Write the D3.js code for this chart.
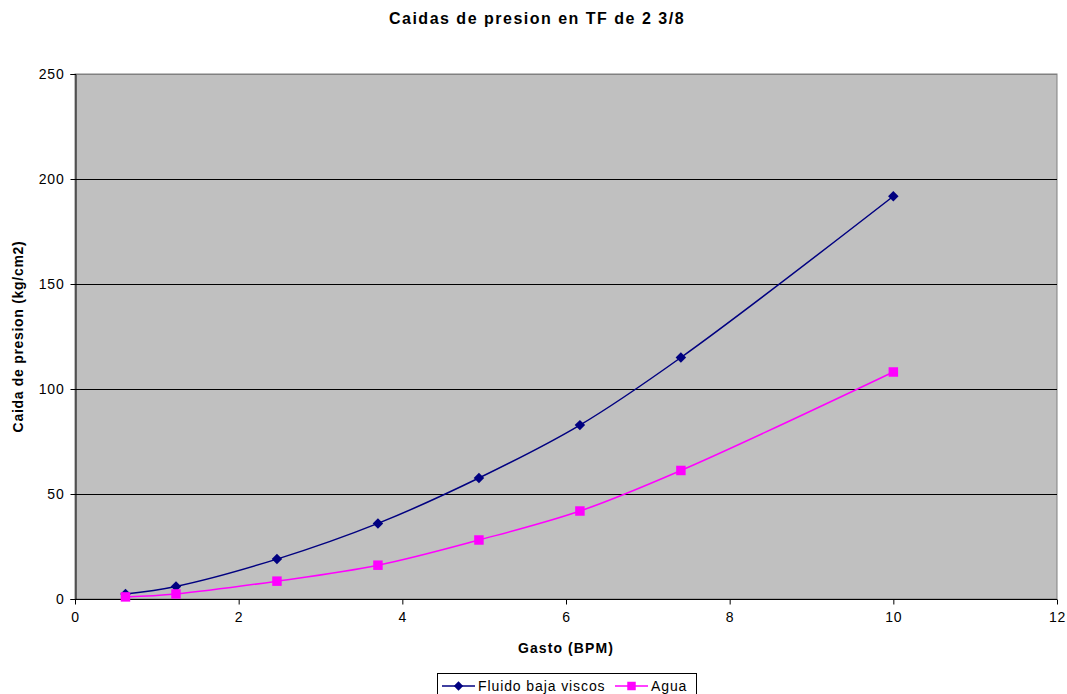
<!DOCTYPE html>
<html><head><meta charset="utf-8">
<script src="https://cdn.jsdelivr.net/npm/d3@7"></script>
<style>body{margin:0;background:#fff;font-family:Arial,"Liberation Sans",sans-serif}</style>
</head><body><svg id="c" width="1067" height="694"></svg>
<script>
const gasto = [0.617, 1.234, 2.468, 3.702, 4.936, 6.17, 7.404, 10.0];
const fluido = [2.4, 6.0, 19.0, 36.0, 57.6, 82.8, 115.0, 191.8];
const agua = [1.0, 2.4, 8.5, 16.1, 28.1, 41.9, 61.2, 108.1];
const seriesNames = ["Fluido baja viscos", "Agua"];
const xTicks = [0, 2, 4, 6, 8, 10, 12];
const yTicks = [0, 50, 100, 150, 200, 250];

const svg = d3.select("#c");
const L = 75, R = 1057, T = 74, B = 599;
const x = d3.scaleLinear().domain([0, 12]).range([L, R]);
const y = d3.scaleLinear().domain([0, 250]).range([B, T]);
const font = "Arial, 'Liberation Sans', sans-serif";

svg.append("rect").attr("x", L).attr("y", T).attr("width", R - L).attr("height", B - T)
  .attr("fill", "#c0c0c0").attr("stroke", "#808080").attr("stroke-width", 1);

svg.append("g").selectAll("line").data(yTicks.slice(1)).join("line")
  .attr("x1", L).attr("x2", R).attr("y1", d => Math.round(y(d)) + 0.5).attr("y2", d => Math.round(y(d)) + 0.5)
  .attr("stroke", d => d === 250 ? "#808080" : "#000").attr("stroke-width", 1);

const yAxis = svg.append("g").attr("transform", `translate(${L + 0.5},0)`)
  .call(d3.axisLeft(y).tickValues(yTicks).tickSize(5).tickPadding(6));
const xAxis = svg.append("g").attr("transform", `translate(0,${B + 0.5})`)
  .call(d3.axisBottom(x).tickValues(xTicks).tickSize(5).tickPadding(8));
[yAxis, xAxis].forEach(a => {
  a.selectAll("text").attr("font-size", 14).attr("letter-spacing", 0.8).attr("font-family", font).attr("fill", "#000");
  a.selectAll("line,path").attr("stroke", "#000");
});
yAxis.selectAll("text").attr("dy", "0.35em");
xAxis.select(".domain").attr("d", `M${L},0H${R}`);

const diamond = { draw(ctx, size) { const r = Math.sqrt(size) / 2; ctx.moveTo(0, -r); ctx.lineTo(r, 0); ctx.lineTo(0, r); ctx.lineTo(-r, 0); ctx.closePath(); } };
const data = [
  { name: seriesNames[0], vals: fluido, color: "#000080", shape: diamond, size: 110 },
  { name: seriesNames[1], vals: agua, color: "#ff00ff", shape: d3.symbolSquare, size: 90 }
];
const line = d3.line().x(d => x(d[0])).y(d => y(d[1])).curve(d3.curveCatmullRom.alpha(0.5));
data.forEach(s => {
  const pts = gasto.map((g, i) => [g, s.vals[i]]);
  svg.append("path").attr("d", line(pts)).attr("fill", "none").attr("stroke", s.color).attr("stroke-width", 1.5);
  svg.append("g").selectAll("path").data(pts).join("path")
    .attr("transform", d => `translate(${x(d[0])},${y(d[1])})`)
    .attr("d", d3.symbol(s.shape, s.size)).attr("fill", s.color);
});

svg.append("text").attr("x", 537).attr("y", 24).attr("text-anchor", "middle")
  .attr("font-size", 16).attr("letter-spacing", 1.5).attr("font-weight", "bold").attr("font-family", font).text("Caidas de presion en TF de 2 3/8");
svg.append("text").attr("x", 566).attr("y", 653).attr("text-anchor", "middle")
  .attr("font-size", 14).attr("letter-spacing", 1.1).attr("font-weight", "bold").attr("font-family", font).text("Gasto (BPM)");
svg.append("text").attr("transform", `translate(23,${(T + B) / 2}) rotate(-90)`).attr("text-anchor", "middle")
  .attr("font-size", 14).attr("letter-spacing", 0.7).attr("font-weight", "bold").attr("font-family", font).text("Caida de presion (kg/cm2)");

// legend
const lg = svg.append("g");
lg.append("rect").attr("x", 437.5).attr("y", 673.5).attr("width", 259).attr("height", 26)
  .attr("fill", "#fff").attr("stroke", "#000");
const items = [{ x0: 442, tx: 478 }, { x0: 615, tx: 651 }];
data.forEach((s, i) => {
  const it = items[i];
  lg.append("line").attr("x1", it.x0).attr("x2", it.x0 + 33).attr("y1", 686).attr("y2", 686)
    .attr("stroke", s.color).attr("stroke-width", 1.5);
  lg.append("path").attr("transform", `translate(${it.x0 + 16.5},686)`)
    .attr("d", d3.symbol(s.shape, s.size * 0.8)).attr("fill", s.color);
  lg.append("text").attr("x", it.tx).attr("y", 691).attr("font-size", 14).attr("letter-spacing", 0.9).attr("font-family", font).text(s.name);
});
</script></body></html>
